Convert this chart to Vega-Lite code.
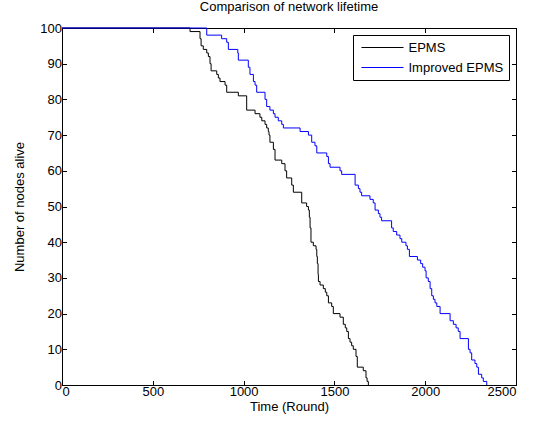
{
  "$schema": "https://vega.github.io/schema/vega-lite/v6.json",
  "width": 454,
  "height": 357,
  "autosize": {"type": "none"},
  "padding": {"left": 62, "top": 28, "right": 23, "bottom": 38},
  "background": "white",
  "title": {"text": "Comparison of network lifetime", "font": "Liberation Sans", "fontSize": 13, "fontWeight": "normal", "color": "black", "offset": 8},
  "config": {
    "view": {"stroke": "black", "strokeWidth": 1},
    "font": "Liberation Sans",
    "axis": {
      "grid": false,
      "domainColor": "black",
      "tickColor": "black",
      "labelColor": "black",
      "titleColor": "black",
      "labelFont": "Liberation Sans",
      "titleFont": "Liberation Sans",
      "labelFontSize": 13,
      "titleFontSize": 13,
      "titleFontWeight": "normal",
      "tickSize": -4.5,
      "labelPadding": 5,
      "format": "d"
    }
  },
  "data": {
    "values": [
      {"series": "EPMS", "t": 0, "n": 100},
      {"series": "EPMS", "t": 705, "n": 99},
      {"series": "EPMS", "t": 760, "n": 97},
      {"series": "EPMS", "t": 766, "n": 95},
      {"series": "EPMS", "t": 778, "n": 94},
      {"series": "EPMS", "t": 797, "n": 93},
      {"series": "EPMS", "t": 806, "n": 92},
      {"series": "EPMS", "t": 815, "n": 90},
      {"series": "EPMS", "t": 821, "n": 88},
      {"series": "EPMS", "t": 852, "n": 87},
      {"series": "EPMS", "t": 861, "n": 86},
      {"series": "EPMS", "t": 870, "n": 85},
      {"series": "EPMS", "t": 898, "n": 84},
      {"series": "EPMS", "t": 907, "n": 82},
      {"series": "EPMS", "t": 971, "n": 81},
      {"series": "EPMS", "t": 1017, "n": 77},
      {"series": "EPMS", "t": 1063, "n": 76},
      {"series": "EPMS", "t": 1090, "n": 75},
      {"series": "EPMS", "t": 1100, "n": 74},
      {"series": "EPMS", "t": 1118, "n": 73},
      {"series": "EPMS", "t": 1127, "n": 72},
      {"series": "EPMS", "t": 1136, "n": 71},
      {"series": "EPMS", "t": 1140, "n": 70},
      {"series": "EPMS", "t": 1145, "n": 68},
      {"series": "EPMS", "t": 1164, "n": 66},
      {"series": "EPMS", "t": 1173, "n": 63},
      {"series": "EPMS", "t": 1210, "n": 62},
      {"series": "EPMS", "t": 1228, "n": 60},
      {"series": "EPMS", "t": 1237, "n": 58},
      {"series": "EPMS", "t": 1265, "n": 56},
      {"series": "EPMS", "t": 1274, "n": 54},
      {"series": "EPMS", "t": 1320, "n": 51},
      {"series": "EPMS", "t": 1347, "n": 50},
      {"series": "EPMS", "t": 1357, "n": 49},
      {"series": "EPMS", "t": 1362, "n": 47},
      {"series": "EPMS", "t": 1366, "n": 44},
      {"series": "EPMS", "t": 1371, "n": 40},
      {"series": "EPMS", "t": 1384, "n": 39},
      {"series": "EPMS", "t": 1399, "n": 38},
      {"series": "EPMS", "t": 1403, "n": 36},
      {"series": "EPMS", "t": 1406, "n": 34},
      {"series": "EPMS", "t": 1410, "n": 31},
      {"series": "EPMS", "t": 1412, "n": 29},
      {"series": "EPMS", "t": 1421, "n": 28},
      {"series": "EPMS", "t": 1439, "n": 27},
      {"series": "EPMS", "t": 1450, "n": 26},
      {"series": "EPMS", "t": 1458, "n": 25},
      {"series": "EPMS", "t": 1467, "n": 23},
      {"series": "EPMS", "t": 1485, "n": 22},
      {"series": "EPMS", "t": 1494, "n": 20},
      {"series": "EPMS", "t": 1531, "n": 19},
      {"series": "EPMS", "t": 1549, "n": 17},
      {"series": "EPMS", "t": 1560, "n": 16},
      {"series": "EPMS", "t": 1568, "n": 15},
      {"series": "EPMS", "t": 1577, "n": 13},
      {"series": "EPMS", "t": 1586, "n": 12},
      {"series": "EPMS", "t": 1595, "n": 11},
      {"series": "EPMS", "t": 1604, "n": 10},
      {"series": "EPMS", "t": 1619, "n": 8},
      {"series": "EPMS", "t": 1626, "n": 5},
      {"series": "EPMS", "t": 1659, "n": 4},
      {"series": "EPMS", "t": 1674, "n": 2},
      {"series": "EPMS", "t": 1680, "n": 1},
      {"series": "EPMS", "t": 1687, "n": 0},
      {"series": "Improved EPMS", "t": 0, "n": 100},
      {"series": "Improved EPMS", "t": 797, "n": 98},
      {"series": "Improved EPMS", "t": 879, "n": 97},
      {"series": "Improved EPMS", "t": 907, "n": 96},
      {"series": "Improved EPMS", "t": 916, "n": 94},
      {"series": "Improved EPMS", "t": 968, "n": 93},
      {"series": "Improved EPMS", "t": 971, "n": 91},
      {"series": "Improved EPMS", "t": 1026, "n": 89},
      {"series": "Improved EPMS", "t": 1035, "n": 87},
      {"series": "Improved EPMS", "t": 1054, "n": 85},
      {"series": "Improved EPMS", "t": 1063, "n": 84},
      {"series": "Improved EPMS", "t": 1072, "n": 82},
      {"series": "Improved EPMS", "t": 1118, "n": 80},
      {"series": "Improved EPMS", "t": 1127, "n": 78},
      {"series": "Improved EPMS", "t": 1145, "n": 77},
      {"series": "Improved EPMS", "t": 1164, "n": 76},
      {"series": "Improved EPMS", "t": 1173, "n": 75},
      {"series": "Improved EPMS", "t": 1191, "n": 74},
      {"series": "Improved EPMS", "t": 1210, "n": 73},
      {"series": "Improved EPMS", "t": 1219, "n": 72},
      {"series": "Improved EPMS", "t": 1311, "n": 71},
      {"series": "Improved EPMS", "t": 1357, "n": 70},
      {"series": "Improved EPMS", "t": 1375, "n": 68},
      {"series": "Improved EPMS", "t": 1393, "n": 67},
      {"series": "Improved EPMS", "t": 1403, "n": 65},
      {"series": "Improved EPMS", "t": 1458, "n": 64},
      {"series": "Improved EPMS", "t": 1467, "n": 62},
      {"series": "Improved EPMS", "t": 1476, "n": 61},
      {"series": "Improved EPMS", "t": 1531, "n": 60},
      {"series": "Improved EPMS", "t": 1540, "n": 59},
      {"series": "Improved EPMS", "t": 1614, "n": 56},
      {"series": "Improved EPMS", "t": 1632, "n": 55},
      {"series": "Improved EPMS", "t": 1641, "n": 54},
      {"series": "Improved EPMS", "t": 1650, "n": 53},
      {"series": "Improved EPMS", "t": 1696, "n": 52},
      {"series": "Improved EPMS", "t": 1714, "n": 51},
      {"series": "Improved EPMS", "t": 1724, "n": 49},
      {"series": "Improved EPMS", "t": 1742, "n": 48},
      {"series": "Improved EPMS", "t": 1751, "n": 47},
      {"series": "Improved EPMS", "t": 1760, "n": 46},
      {"series": "Improved EPMS", "t": 1815, "n": 44},
      {"series": "Improved EPMS", "t": 1824, "n": 43},
      {"series": "Improved EPMS", "t": 1843, "n": 42},
      {"series": "Improved EPMS", "t": 1861, "n": 41},
      {"series": "Improved EPMS", "t": 1871, "n": 40},
      {"series": "Improved EPMS", "t": 1894, "n": 39},
      {"series": "Improved EPMS", "t": 1902, "n": 38},
      {"series": "Improved EPMS", "t": 1913, "n": 36},
      {"series": "Improved EPMS", "t": 1957, "n": 35},
      {"series": "Improved EPMS", "t": 1975, "n": 34},
      {"series": "Improved EPMS", "t": 1986, "n": 33},
      {"series": "Improved EPMS", "t": 1999, "n": 32},
      {"series": "Improved EPMS", "t": 2005, "n": 30},
      {"series": "Improved EPMS", "t": 2017, "n": 29},
      {"series": "Improved EPMS", "t": 2027, "n": 27},
      {"series": "Improved EPMS", "t": 2036, "n": 25},
      {"series": "Improved EPMS", "t": 2045, "n": 24},
      {"series": "Improved EPMS", "t": 2054, "n": 23},
      {"series": "Improved EPMS", "t": 2064, "n": 22},
      {"series": "Improved EPMS", "t": 2082, "n": 20},
      {"series": "Improved EPMS", "t": 2137, "n": 18},
      {"series": "Improved EPMS", "t": 2155, "n": 17},
      {"series": "Improved EPMS", "t": 2170, "n": 16},
      {"series": "Improved EPMS", "t": 2182, "n": 15},
      {"series": "Improved EPMS", "t": 2192, "n": 13},
      {"series": "Improved EPMS", "t": 2238, "n": 10},
      {"series": "Improved EPMS", "t": 2247, "n": 9},
      {"series": "Improved EPMS", "t": 2256, "n": 7},
      {"series": "Improved EPMS", "t": 2274, "n": 6},
      {"series": "Improved EPMS", "t": 2284, "n": 5},
      {"series": "Improved EPMS", "t": 2293, "n": 3},
      {"series": "Improved EPMS", "t": 2311, "n": 2},
      {"series": "Improved EPMS", "t": 2320, "n": 1},
      {"series": "Improved EPMS", "t": 2339, "n": 0}
    ]
  },
  "layer": [
    {
      "mark": {"type": "line", "interpolate": "step-after", "strokeWidth": 1},
      "encoding": {
        "x": {"field": "t", "type": "quantitative", "scale": {"domain": [0, 2500], "nice": false},
              "axis": {"title": "Time (Round)", "values": [0, 500, 1000, 1500, 2000, 2500], "titlePadding": 2}},
        "y": {"field": "n", "type": "quantitative", "scale": {"domain": [0, 100], "nice": false},
              "axis": {"title": "Number of nodes alive", "values": [0, 10, 20, 30, 40, 50, 60, 70, 80, 90, 100], "titlePadding": 13}},
        "color": {"field": "series", "type": "nominal",
                  "scale": {"domain": ["EPMS", "Improved EPMS"], "range": ["black", "blue"]},
                  "legend": {"title": null, "orient": "top-right", "offset": 7, "strokeColor": "black", "fillColor": "white",
                             "padding": 5.5, "rowPadding": 6, "symbolType": "M-0.62,0H5.85", "symbolSize": 169,
                             "symbolStrokeWidth": 1, "labelFont": "Liberation Sans", "labelFontSize": 13, "labelColor": "black",
                             "labelOffset": 36}}
      }
    },
    {
      "mark": {"type": "line", "strokeOpacity": 0},
      "encoding": {
        "x": {"field": "t", "type": "quantitative", "axis": {"orient": "top", "labels": false, "title": null, "values": [0, 500, 1000, 1500, 2000, 2500]}},
        "y": {"field": "n", "type": "quantitative", "axis": {"orient": "right", "labels": false, "title": null, "values": [0, 10, 20, 30, 40, 50, 60, 70, 80, 90, 100]}},
        "detail": {"field": "series"}
      }
    }
  ],
  "resolve": {"axis": {"x": "independent", "y": "independent"}}
}
